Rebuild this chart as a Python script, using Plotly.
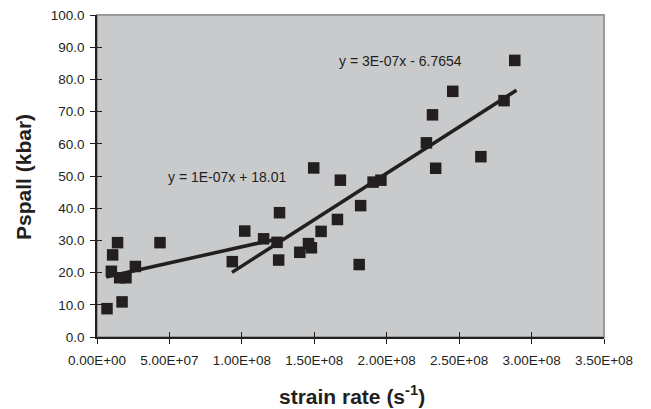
import numpy as np
import plotly.graph_objects as go

# Data points (strain rate s^-1, Pspall kbar)
strain_rate = [6.9e6, 1.73e7, 9.9e6, 1.08e7, 1.42e7, 1.56e7, 2.0e7, 2.65e7, 4.35e7,
               9.34e7, 1.02e8, 1.15e8, 1.26e8, 1.243e8, 1.254e8, 1.40e8, 1.46e8, 1.48e8,
               1.496e8, 1.547e8, 1.66e8, 1.68e8, 1.82e8, 1.81e8, 1.906e8, 1.96e8,
               2.274e8, 2.316e8, 2.338e8, 2.456e8, 2.65e8, 2.81e8, 2.884e8]
pspall = [8.8, 10.9, 20.4, 25.5, 29.3, 18.4, 18.4, 21.9, 29.3,
          23.4, 32.9, 30.5, 38.6, 29.4, 23.9, 26.3, 29.0, 27.7,
          52.5, 32.8, 36.5, 48.7, 40.8, 22.5, 48.1, 48.7,
          60.3, 69.0, 52.4, 76.3, 56.0, 73.4, 85.9]

# Trendlines (slope, intercept, x-extent)
trend1_slope, trend1_intercept = 1.0e-7, 18.01
trend1_x = [6.4e6, 1.243e8]
trend2_slope, trend2_intercept = 2.88e-7, -6.7654
trend2_x = [9.32e7, 2.896e8]

eq_labels = ["y = 1E-07x + 18.01", "y = 3E-07x - 6.7654"]
eq_x = [9.0e7, 2.095e8]
eq_y = [49.8, 85.6]

x_tickvals = [0, 5e7, 1e8, 1.5e8, 2e8, 2.5e8, 3e8, 3.5e8]
x_ticktext = ["0.00E+00", "5.00E+07", "1.00E+08", "1.50E+08", "2.00E+08",
              "2.50E+08", "3.00E+08", "3.50E+08"]
y_tickvals = [0, 10, 20, 30, 40, 50, 60, 70, 80, 90, 100]

x_title = "<b>strain rate (s<sup>-1</sup>)</b>"
y_title = "<b>Pspall (kbar)</b>"

ink = "#231f20"
font = "Liberation Sans, Arial, sans-serif"

fig = go.Figure()

t1x = np.array(trend1_x)
t2x = np.array(trend2_x)
fig.add_trace(go.Scatter(x=t1x, y=trend1_slope * t1x + trend1_intercept, mode="lines",
                         line=dict(color=ink, width=3.5), showlegend=False, hoverinfo="skip"))
fig.add_trace(go.Scatter(x=t2x, y=trend2_slope * t2x + trend2_intercept, mode="lines",
                         line=dict(color=ink, width=3.5), showlegend=False, hoverinfo="skip"))
fig.add_trace(go.Scatter(x=strain_rate, y=pspall, mode="markers",
                         marker=dict(symbol="square", size=11.5, color=ink,
                                     line=dict(width=0)),
                         showlegend=False))

for txt, ex, ey in zip(eq_labels, eq_x, eq_y):
    fig.add_annotation(x=ex, y=ey, text=txt, showarrow=False,
                       font=dict(family=font, size=14, color=ink))

fig.add_annotation(xref="paper", yref="paper", x=0.503, y=-0.18, text=x_title,
                   showarrow=False, xanchor="center", yanchor="middle",
                   font=dict(family=font, size=21, color=ink))
fig.add_annotation(xref="paper", yref="paper", x=-0.144, y=0.497, text=y_title,
                   showarrow=False, xanchor="center", yanchor="middle", textangle=-90,
                   font=dict(family=font, size=21, color=ink))

xr = [0, 3.5e8]
yr = [0, 100]

fig.update_layout(
    width=651, height=409,
    margin=dict(l=97, r=47, t=15, b=72),
    paper_bgcolor="white",
    plot_bgcolor="#c9cacc",
    font=dict(family=font, color=ink),
    xaxis=dict(range=xr, tickvals=x_tickvals, ticktext=x_ticktext,
               ticks="outside", ticklen=5, tickwidth=1, tickcolor=ink,
               showline=True, linecolor=ink, linewidth=1.5,
               showgrid=False, zeroline=False, automargin=False,
               ticklabelstandoff=5,
               tickfont=dict(size=13.5, color=ink)),
    yaxis=dict(range=yr, tickvals=y_tickvals, tickformat=".1f",
               ticks="outside", ticklen=5, tickwidth=1, tickcolor=ink,
               showline=True, linecolor=ink, linewidth=1.5,
               showgrid=False, zeroline=False, automargin=False,
               ticklabelstandoff=3,
               tickfont=dict(size=13.5, color=ink)),
    xaxis2=dict(overlaying="x", anchor="y", side="bottom", range=xr,
                tickvals=x_tickvals, showticklabels=False,
                ticks="inside", ticklen=5, tickwidth=1, tickcolor=ink,
                showline=False, showgrid=False, zeroline=False, automargin=False),
    yaxis2=dict(overlaying="y", anchor="x", side="left", range=yr,
                tickvals=y_tickvals, showticklabels=False,
                ticks="inside", ticklen=5, tickwidth=1, tickcolor=ink,
                showline=False, showgrid=False, zeroline=False, automargin=False),
    shapes=[dict(type="rect", xref="paper", yref="paper", x0=0, x1=1, y0=0, y1=1,
                 line=dict(color="#9a9a9a", width=2), layer="below")],
)

# empty trace so the overlay tick axes render
fig.add_trace(go.Scatter(x=[None], y=[None], xaxis="x2", yaxis="y2",
                         showlegend=False, hoverinfo="skip"))

fig.write_html("out.html", config={"displayModeBar": False},
               post_script="document.body.style.margin='0';document.body.style.overflow='hidden';")
